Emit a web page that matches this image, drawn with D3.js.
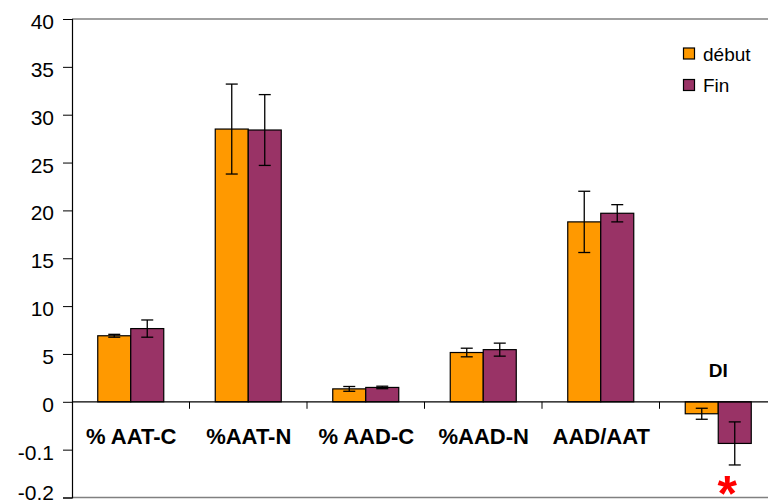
<!DOCTYPE html>
<html>
<head>
<meta charset="utf-8">
<script src="https://cdn.jsdelivr.net/npm/d3@7/dist/d3.min.js"></script>
<style>
  html, body { margin: 0; padding: 0; background: #fff; }
  svg { display: block; font-family: "Liberation Sans", Arial, sans-serif; }
</style>
</head>
<body>
<svg id="chart" width="768" height="501"></svg>
<script>
// ---- data ----
const categories = ["% AAT-C", "%AAT-N", "% AAD-C", "%AAD-N", "AAD/AAT", "DI"];
const seriesNames = ["début", "Fin"];
const debut    = [6.9, 28.5, 1.35, 5.15, 18.8, -0.025];
const fin      = [7.65, 28.4, 1.5, 5.45, 19.7, -0.087];
const debutErr = [0.15, 4.7, 0.25, 0.45, 3.2, 0.0115];
const finErr   = [0.9, 3.7, 0.13, 0.68, 0.9, 0.045];
// DI is plotted on the same axis, scaled so that -0.1 sits at the "-5" position
const diScale = 50;
const tickValues = [-10, -5, 0, 5, 10, 15, 20, 25, 30, 35, 40];
const tickLabels = ["-0.2", "-0.1", "0", "5", "10", "15", "20", "25", "30", "35", "40"];
const colors = ["#FF9900", "#993366"];
const significant = ["", "", "", "", "", "*"];

// ---- layout ----
const svg = d3.select("#chart");
const pLeft = 72, pRight = 777, pTop = 19, pBottom = 497.5;

const y = d3.scaleLinear().domain([-10, 40]).range([pBottom, pTop]);
const x = d3.scaleBand().domain(categories).range([pLeft, pRight]).paddingInner(0).paddingOuter(0);
const groupW = 66;
const x1 = d3.scaleBand().domain(seriesNames).range([0, groupW]);
const off = (x.bandwidth() - groupW) / 2;

const plotVal = (v, i) => (categories[i] === "DI" ? v * diScale : v);

// plot area border (top/bottom grey)
svg.append("line").attr("x1", pLeft).attr("x2", pRight).attr("y1", pTop).attr("y2", pTop)
  .attr("stroke", "#808080").attr("stroke-width", 1.5);
svg.append("line").attr("x1", pLeft).attr("x2", pRight).attr("y1", pBottom).attr("y2", pBottom)
  .attr("stroke", "#808080").attr("stroke-width", 1.5);

// bars
const series = [
  { name: seriesNames[0], vals: debut, errs: debutErr, color: colors[0] },
  { name: seriesNames[1], vals: fin, errs: finErr, color: colors[1] }
];

series.forEach(s => {
  const g = svg.append("g");
  categories.forEach((c, i) => {
    const v = plotVal(s.vals[i], i);
    const bx = x(c) + off + x1(s.name);
    const bw = x1.bandwidth();
    g.append("rect")
      .attr("x", bx).attr("width", bw)
      .attr("y", Math.min(y(v), y(0)))
      .attr("height", Math.abs(y(v) - y(0)))
      .attr("fill", s.color).attr("stroke", "#000").attr("stroke-width", 1.2);
  });
});

// error bars
series.forEach(s => {
  const g = svg.append("g").attr("stroke", "#000").attr("stroke-width", 1.3);
  categories.forEach((c, i) => {
    const v = plotVal(s.vals[i], i);
    const e = plotVal(s.errs[i], i);
    const cx = x(c) + off + x1(s.name) + x1.bandwidth() / 2;
    g.append("line").attr("x1", cx).attr("x2", cx).attr("y1", y(v + e)).attr("y2", y(v - e));
    g.append("line").attr("x1", cx - 6).attr("x2", cx + 6).attr("y1", y(v + e)).attr("y2", y(v + e));
    g.append("line").attr("x1", cx - 6).attr("x2", cx + 6).attr("y1", y(v - e)).attr("y2", y(v - e));
  });
});

// y axis
const yAxis = d3.axisLeft(y).tickValues(tickValues)
  .tickFormat((d, i) => tickLabels[i]).tickSize(9).tickPadding(9);
const yg = svg.append("g").attr("transform", `translate(${pLeft},0)`).call(yAxis);
yg.select(".domain").attr("stroke", "#000").attr("stroke-width", 1.2);
yg.selectAll(".tick line").attr("stroke", "#000");
yg.selectAll(".tick text").attr("font-size", 21).attr("fill", "#000")
  .attr("font-family", "Liberation Sans, Arial, sans-serif")
  .attr("dy", d => (d === tickValues[0] ? "0.08em" : "0.45em"));

// x axis (at zero) with ticks at category boundaries
svg.append("line").attr("x1", pLeft).attr("x2", pRight).attr("y1", y(0)).attr("y2", y(0))
  .attr("stroke", "#000").attr("stroke-width", 1.2);
categories.forEach((c, i) => {
  if (i === 0) return;
  svg.append("line").attr("x1", x(c)).attr("x2", x(c))
    .attr("y1", y(0)).attr("y2", y(0) + 7).attr("stroke", "#000");
});

// category labels
categories.forEach((c, i) => {
  const neg = debut[i] < 0;
  svg.append("text")
    .attr("x", x(c) + x.bandwidth() / 2 + (neg ? 0 : 0.5))
    .attr("y", neg ? 377 : 444)
    .attr("text-anchor", "middle")
    .attr("font-size", neg ? 19 : 22)
    .attr("font-weight", "bold")
    .attr("fill", "#000")
    .text(c);
});

// significance mark
categories.forEach((c, i) => {
  if (!significant[i]) return;
  const cx = x(c) + off + x1(seriesNames[1]) + x1.bandwidth() / 2 - 7.5;
  svg.append("text")
    .attr("x", cx).attr("y", 511)
    .attr("text-anchor", "middle")
    .attr("font-size", 50).attr("font-weight", "bold")
    .attr("fill", "#FF0000")
    .text(significant[i]);
});

// legend
const leg = svg.append("g");
seriesNames.forEach((n, i) => {
  const ly = 48 + i * 31.5;
  leg.append("rect").attr("x", 683.5).attr("y", ly).attr("width", 11).attr("height", 11)
    .attr("fill", colors[i]).attr("stroke", "#000").attr("stroke-width", 1.2);
  leg.append("text").attr("x", 703).attr("y", ly + 12.5)
    .attr("font-size", 19).attr("fill", "#000").text(n);
});
</script>
</body>
</html>
